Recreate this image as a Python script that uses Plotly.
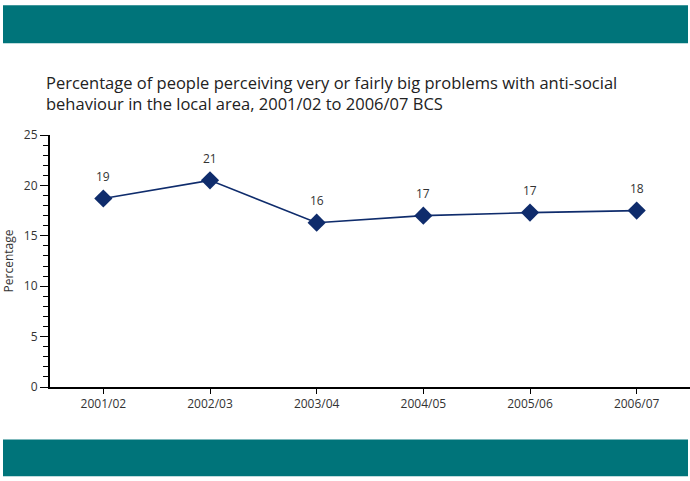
import math
import plotly.graph_objects as go

# British Crime Survey: perceived high level of anti-social behaviour
years = ["2001/02", "2002/03", "2003/04", "2004/05", "2005/06", "2006/07"]
percent = [18.7, 20.5, 16.3, 17.0, 17.3, 17.5]
labels = [str(math.floor(v + 0.5)) for v in percent]

y_ticks = [0, 5, 10, 15, 20, 25]

TEAL = "#00747A"
NAVY = "#0F2C6C"
TEXT = "#333333"
FONT = "Open Sans"

H = 481
PLOT_TOP, PLOT_BOT = 135, 387.5
PLOT_L, PLOT_W = 50, 640
ph = PLOT_BOT - PLOT_TOP


def ypaper(py):
    return (PLOT_BOT - py) / ph


def xpaper(px):
    return (px - PLOT_L) / PLOT_W


xs = list(range(len(years)))

fig = go.Figure(
    go.Scatter(
        x=xs,
        y=percent,
        mode="lines+markers",
        line=dict(color=NAVY, width=1.6),
        marker=dict(symbol="diamond", size=14, color=NAVY),
        cliponaxis=False,
        hoverinfo="skip",
    )
)

# value labels above each point
for x, v, lab in zip(xs, percent, labels):
    fig.add_annotation(
        x=x, y=v, text=lab, showarrow=False, yshift=22,
        font=dict(family=FONT, size=12, color=TEXT),
    )

# teal header and footer bands
for y0, y1 in [(5, 43), (440, 477)]:
    fig.add_shape(
        type="rect", xref="paper", yref="paper",
        x0=xpaper(3), x1=xpaper(688),
        y0=ypaper(y1), y1=ypaper(y0),
        line_width=0, fillcolor=TEAL, layer="above",
    )

fig.add_annotation(
    xref="paper", yref="paper",
    x=xpaper(44), y=ypaper(69),
    xanchor="left", yanchor="top",
    align="left", showarrow=False,
    text="Percentage of people perceiving very or fairly big problems with anti-social<br>"
         "behaviour in the local area, 2001/02 to 2006/07 BCS",
    font=dict(family=FONT, size=16.5, color="#222222"),
)

fig.update_layout(
    width=690, height=481,
    margin=dict(l=PLOT_L, r=0, t=PLOT_TOP, b=H - PLOT_BOT),
    paper_bgcolor="white", plot_bgcolor="white",
    showlegend=False,
    font=dict(family=FONT, size=12, color=TEXT),
    xaxis=dict(
        range=[-0.5, len(years) - 0.5],
        tickmode="array", tickvals=xs, ticktext=years,
        tickson="boundaries", ticks="outside", ticklen=5, tickcolor="black", tickwidth=1,
        showline=True, linecolor="black", linewidth=1.5,
        showgrid=False, zeroline=False, fixedrange=True,
        tickfont=dict(family=FONT, size=12, color=TEXT),
    ),
    yaxis=dict(
        range=[0, 25],
        tickmode="array", tickvals=y_ticks,
        ticks="outside", ticklen=8, tickcolor="black", tickwidth=1,
        minor=dict(dtick=1, ticks="outside", ticklen=5, tickcolor="black", tickwidth=1),
        showline=True, linecolor="black", linewidth=2,
        showgrid=False, zeroline=False, fixedrange=True,
        tickfont=dict(family=FONT, size=12, color=TEXT),
        title=dict(text="Percentage", font=dict(family=FONT, size=12, color=TEXT), standoff=8),
    ),
)

fig.write_html("out.html")
